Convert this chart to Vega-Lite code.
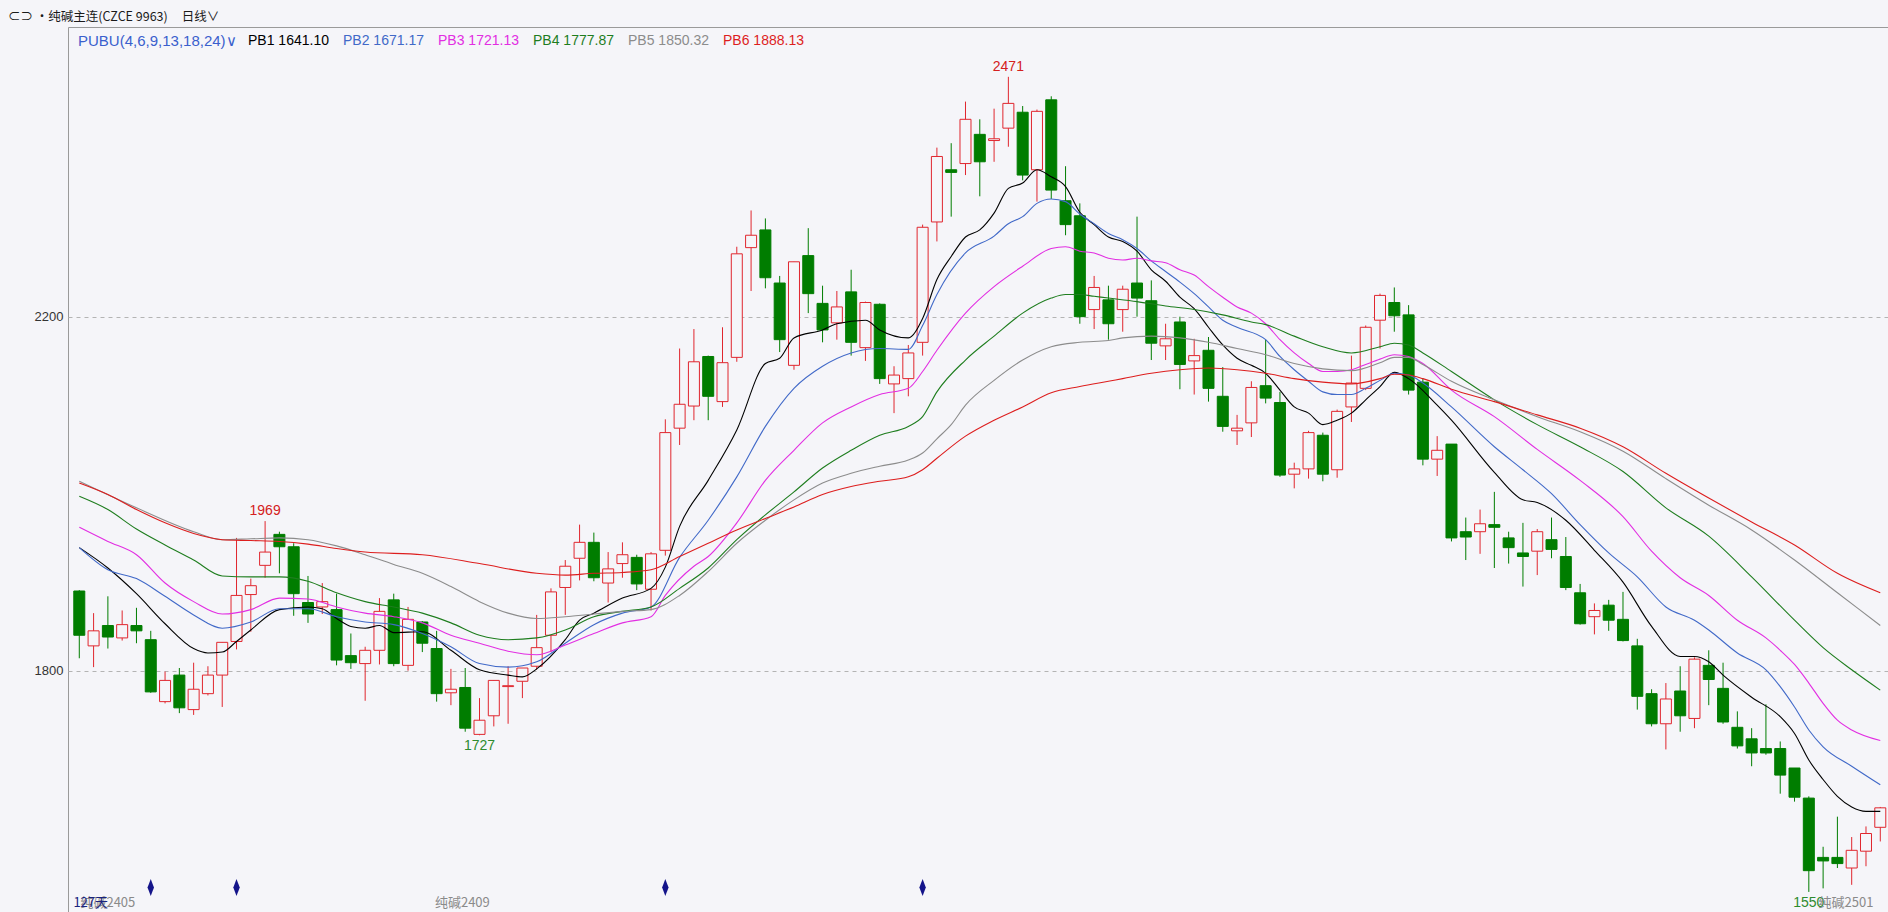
{
  "$schema": "https://vega.github.io/schema/vega-lite/v6.json",
  "width": 1820,
  "height": 885,
  "autosize": {"type": "none"},
  "padding": {"left": 68, "top": 27, "right": 0, "bottom": 0},
  "background": "#f5f5f9",
  "config": {
    "view": {"stroke": "#9a9a9a", "strokeWidth": 1},
    "font": "Liberation Sans",
    "axisY": {"grid": true, "gridDash": [4, 4], "gridColor": "#b4b4b4", "gridWidth": 1, "domain": false, "ticks": false, "labelPadding": 5, "labelFontSize": 13, "labelColor": "#333333", "labelFont": "Liberation Sans", "title": null}
  },
  "title": {
    "text": "⊂⊃ •纯碱主连(CZCE 9963)\u00a0\u00a0\u00a0\u00a0\u00a0日线∨",
    "anchor": "start",
    "frame": "group",
    "dx": -60,
    "offset": 4,
    "fontSize": 12.5,
    "fontWeight": "normal",
    "font": "Noto Sans CJK SC",
    "color": "#1a1a1a"
  },
  "datasets": {
    "candles": [
      {"i":1,"o":1890,"h":1891,"l":1814,"c":1840},
      {"i":2,"o":1828,"h":1865,"l":1804,"c":1845},
      {"i":3,"o":1851,"h":1884,"l":1825,"c":1838},
      {"i":4,"o":1837,"h":1868,"l":1834,"c":1852},
      {"i":5,"o":1851,"h":1871,"l":1831,"c":1845},
      {"i":6,"o":1835,"h":1845,"l":1775,"c":1776},
      {"i":7,"o":1765,"h":1799,"l":1763,"c":1789},
      {"i":8,"o":1795,"h":1803,"l":1752,"c":1758},
      {"i":9,"o":1756,"h":1809,"l":1750,"c":1779},
      {"i":10,"o":1774,"h":1805,"l":1772,"c":1795},
      {"i":11,"o":1795,"h":1832,"l":1759,"c":1832},
      {"i":12,"o":1833,"h":1950,"l":1824,"c":1885},
      {"i":13,"o":1886,"h":1904,"l":1844,"c":1896},
      {"i":14,"o":1919,"h":1969,"l":1905,"c":1934},
      {"i":15,"o":1954,"h":1957,"l":1910,"c":1940},
      {"i":16,"o":1940,"h":1944,"l":1862,"c":1887},
      {"i":17,"o":1877,"h":1907,"l":1854,"c":1864},
      {"i":18,"o":1872,"h":1899,"l":1864,"c":1878},
      {"i":19,"o":1869,"h":1887,"l":1806,"c":1812},
      {"i":20,"o":1817,"h":1842,"l":1802,"c":1809},
      {"i":21,"o":1808,"h":1827,"l":1766,"c":1823},
      {"i":22,"o":1823,"h":1882,"l":1807,"c":1867},
      {"i":23,"o":1880,"h":1887,"l":1805,"c":1808},
      {"i":24,"o":1806,"h":1872,"l":1800,"c":1858},
      {"i":25,"o":1855,"h":1856,"l":1821,"c":1831},
      {"i":26,"o":1825,"h":1845,"l":1765,"c":1774},
      {"i":27,"o":1775,"h":1802,"l":1761,"c":1779},
      {"i":28,"o":1781,"h":1803,"l":1731,"c":1735},
      {"i":29,"o":1728,"h":1769,"l":1727,"c":1744},
      {"i":30,"o":1749,"h":1789,"l":1737,"c":1789},
      {"i":31,"o":1782,"h":1805,"l":1740,"c":1783},
      {"i":32,"o":1788,"h":1803,"l":1769,"c":1803},
      {"i":33,"o":1805,"h":1863,"l":1801,"c":1826},
      {"i":34,"o":1840,"h":1893,"l":1821,"c":1889},
      {"i":35,"o":1894,"h":1925,"l":1863,"c":1918},
      {"i":36,"o":1927,"h":1965,"l":1902,"c":1945},
      {"i":37,"o":1945,"h":1956,"l":1901,"c":1905},
      {"i":38,"o":1899,"h":1934,"l":1877,"c":1915},
      {"i":39,"o":1921,"h":1945,"l":1905,"c":1931},
      {"i":40,"o":1928,"h":1931,"l":1891,"c":1898},
      {"i":41,"o":1892,"h":1934,"l":1868,"c":1932},
      {"i":42,"o":1936,"h":2084,"l":1930,"c":2069},
      {"i":43,"o":2074,"h":2164,"l":2055,"c":2101},
      {"i":44,"o":2099,"h":2186,"l":2083,"c":2149},
      {"i":45,"o":2155,"h":2156,"l":2083,"c":2110},
      {"i":46,"o":2104,"h":2188,"l":2098,"c":2148},
      {"i":47,"o":2154,"h":2279,"l":2149,"c":2271},
      {"i":48,"o":2278,"h":2320,"l":2229,"c":2292},
      {"i":49,"o":2298,"h":2311,"l":2232,"c":2244},
      {"i":50,"o":2238,"h":2246,"l":2160,"c":2174},
      {"i":51,"o":2145,"h":2262,"l":2140,"c":2262},
      {"i":52,"o":2269,"h":2300,"l":2204,"c":2226},
      {"i":53,"o":2215,"h":2235,"l":2171,"c":2185},
      {"i":54,"o":2193,"h":2229,"l":2174,"c":2211},
      {"i":55,"o":2228,"h":2253,"l":2156,"c":2171},
      {"i":56,"o":2165,"h":2217,"l":2150,"c":2216},
      {"i":57,"o":2214,"h":2215,"l":2124,"c":2130},
      {"i":58,"o":2124,"h":2144,"l":2091,"c":2134},
      {"i":59,"o":2130,"h":2168,"l":2110,"c":2159},
      {"i":60,"o":2171,"h":2304,"l":2156,"c":2301},
      {"i":61,"o":2307,"h":2391,"l":2285,"c":2381},
      {"i":62,"o":2366,"h":2396,"l":2313,"c":2363},
      {"i":63,"o":2373,"h":2443,"l":2360,"c":2423},
      {"i":64,"o":2406,"h":2423,"l":2336,"c":2375},
      {"i":65,"o":2399,"h":2435,"l":2375,"c":2401},
      {"i":66,"o":2413,"h":2471,"l":2392,"c":2441},
      {"i":67,"o":2431,"h":2438,"l":2354,"c":2360},
      {"i":68,"o":2366,"h":2434,"l":2330,"c":2432},
      {"i":69,"o":2445,"h":2449,"l":2333,"c":2343},
      {"i":70,"o":2331,"h":2370,"l":2292,"c":2304},
      {"i":71,"o":2314,"h":2328,"l":2192,"c":2200},
      {"i":72,"o":2208,"h":2246,"l":2186,"c":2233},
      {"i":73,"o":2219,"h":2235,"l":2174,"c":2192},
      {"i":74,"o":2208,"h":2235,"l":2183,"c":2231},
      {"i":75,"o":2238,"h":2313,"l":2200,"c":2221},
      {"i":76,"o":2218,"h":2241,"l":2151,"c":2170},
      {"i":77,"o":2167,"h":2192,"l":2151,"c":2175},
      {"i":78,"o":2194,"h":2200,"l":2118,"c":2146},
      {"i":79,"o":2150,"h":2175,"l":2112,"c":2156},
      {"i":80,"o":2162,"h":2177,"l":2104,"c":2119},
      {"i":81,"o":2110,"h":2143,"l":2070,"c":2076},
      {"i":82,"o":2071,"h":2089,"l":2055,"c":2074},
      {"i":83,"o":2080,"h":2127,"l":2064,"c":2120},
      {"i":84,"o":2122,"h":2174,"l":2102,"c":2108},
      {"i":85,"o":2103,"h":2115,"l":2019,"c":2021},
      {"i":86,"o":2022,"h":2035,"l":2006,"c":2028},
      {"i":87,"o":2028,"h":2071,"l":2017,"c":2069},
      {"i":88,"o":2066,"h":2069,"l":2014,"c":2022},
      {"i":89,"o":2027,"h":2095,"l":2018,"c":2093},
      {"i":90,"o":2098,"h":2156,"l":2081,"c":2125},
      {"i":91,"o":2119,"h":2190,"l":2117,"c":2188},
      {"i":92,"o":2196,"h":2226,"l":2164,"c":2224},
      {"i":93,"o":2216,"h":2233,"l":2183,"c":2201},
      {"i":94,"o":2202,"h":2213,"l":2112,"c":2117},
      {"i":95,"o":2126,"h":2130,"l":2032,"c":2039},
      {"i":96,"o":2039,"h":2065,"l":2020,"c":2049},
      {"i":97,"o":2056,"h":2056,"l":1946,"c":1950},
      {"i":98,"o":1957,"h":1973,"l":1925,"c":1951},
      {"i":99,"o":1957,"h":1982,"l":1932,"c":1966},
      {"i":100,"o":1965,"h":2002,"l":1916,"c":1962},
      {"i":101,"o":1950,"h":1957,"l":1921,"c":1939},
      {"i":102,"o":1933,"h":1967,"l":1895,"c":1929},
      {"i":103,"o":1935,"h":1960,"l":1908,"c":1957},
      {"i":104,"o":1948,"h":1973,"l":1927,"c":1937},
      {"i":105,"o":1929,"h":1951,"l":1891,"c":1894},
      {"i":106,"o":1888,"h":1898,"l":1852,"c":1853},
      {"i":107,"o":1861,"h":1876,"l":1841,"c":1868},
      {"i":108,"o":1874,"h":1880,"l":1845,"c":1857},
      {"i":109,"o":1858,"h":1889,"l":1833,"c":1834},
      {"i":110,"o":1828,"h":1836,"l":1756,"c":1771},
      {"i":111,"o":1774,"h":1779,"l":1737,"c":1740},
      {"i":112,"o":1740,"h":1786,"l":1711,"c":1768},
      {"i":113,"o":1777,"h":1805,"l":1731,"c":1749},
      {"i":114,"o":1746,"h":1815,"l":1735,"c":1813},
      {"i":115,"o":1806,"h":1823,"l":1761,"c":1790},
      {"i":116,"o":1780,"h":1809,"l":1740,"c":1742},
      {"i":117,"o":1736,"h":1754,"l":1712,"c":1715},
      {"i":118,"o":1723,"h":1735,"l":1692,"c":1707},
      {"i":119,"o":1712,"h":1762,"l":1705,"c":1707},
      {"i":120,"o":1712,"h":1720,"l":1661,"c":1682},
      {"i":121,"o":1690,"h":1690,"l":1652,"c":1657},
      {"i":122,"o":1656,"h":1658,"l":1550,"c":1574},
      {"i":123,"o":1589,"h":1601,"l":1554,"c":1585},
      {"i":124,"o":1589,"h":1635,"l":1577,"c":1582},
      {"i":125,"o":1577,"h":1612,"l":1558,"c":1597},
      {"i":126,"o":1596,"h":1624,"l":1579,"c":1616},
      {"i":127,"o":1623,"h":1646,"l":1607,"c":1645}
    ],
    "lines": [
      {"s":"PB1","i":1,"v":1939},{"s":"PB1","i":3,"v":1916},{"s":"PB1","i":5,"v":1887},{"s":"PB1","i":7,"v":1853},{"s":"PB1","i":9,"v":1825},{"s":"PB1","i":10,"v":1820},{"s":"PB1","i":11,"v":1821},{"s":"PB1","i":12,"v":1833},{"s":"PB1","i":13,"v":1846},{"s":"PB1","i":15,"v":1869},{"s":"PB1","i":17,"v":1872},{"s":"PB1","i":18,"v":1870},{"s":"PB1","i":19,"v":1859},{"s":"PB1","i":20,"v":1850},{"s":"PB1","i":21,"v":1848},{"s":"PB1","i":22,"v":1851},{"s":"PB1","i":23,"v":1843},{"s":"PB1","i":25,"v":1844},{"s":"PB1","i":27,"v":1823},{"s":"PB1","i":29,"v":1801},{"s":"PB1","i":31,"v":1795},{"s":"PB1","i":32,"v":1793},{"s":"PB1","i":33,"v":1802},{"s":"PB1","i":35,"v":1835},{"s":"PB1","i":36,"v":1857},{"s":"PB1","i":37,"v":1865},{"s":"PB1","i":39,"v":1882},{"s":"PB1","i":41,"v":1893},{"s":"PB1","i":42,"v":1917},{"s":"PB1","i":43,"v":1963},{"s":"PB1","i":45,"v":2015},{"s":"PB1","i":47,"v":2072},{"s":"PB1","i":49,"v":2147},{"s":"PB1","i":50,"v":2153},{"s":"PB1","i":51,"v":2176},{"s":"PB1","i":53,"v":2185},{"s":"PB1","i":54,"v":2192},{"s":"PB1","i":56,"v":2196},{"s":"PB1","i":57,"v":2185},{"s":"PB1","i":59,"v":2176},{"s":"PB1","i":60,"v":2198},{"s":"PB1","i":61,"v":2242},{"s":"PB1","i":62,"v":2268},{"s":"PB1","i":63,"v":2290},{"s":"PB1","i":64,"v":2298},{"s":"PB1","i":65,"v":2317},{"s":"PB1","i":66,"v":2345},{"s":"PB1","i":67,"v":2351},{"s":"PB1","i":68,"v":2366},{"s":"PB1","i":69,"v":2358},{"s":"PB1","i":70,"v":2347},{"s":"PB1","i":71,"v":2318},{"s":"PB1","i":72,"v":2304},{"s":"PB1","i":73,"v":2290},{"s":"PB1","i":74,"v":2285},{"s":"PB1","i":75,"v":2274},{"s":"PB1","i":76,"v":2253},{"s":"PB1","i":77,"v":2240},{"s":"PB1","i":78,"v":2222},{"s":"PB1","i":79,"v":2209},{"s":"PB1","i":80,"v":2188},{"s":"PB1","i":81,"v":2168},{"s":"PB1","i":82,"v":2153},{"s":"PB1","i":83,"v":2145},{"s":"PB1","i":84,"v":2136},{"s":"PB1","i":85,"v":2117},{"s":"PB1","i":86,"v":2098},{"s":"PB1","i":87,"v":2091},{"s":"PB1","i":88,"v":2078},{"s":"PB1","i":89,"v":2083},{"s":"PB1","i":90,"v":2091},{"s":"PB1","i":91,"v":2106},{"s":"PB1","i":92,"v":2121},{"s":"PB1","i":93,"v":2137},{"s":"PB1","i":94,"v":2130},{"s":"PB1","i":96,"v":2100},{"s":"PB1","i":97,"v":2083},{"s":"PB1","i":100,"v":2024},{"s":"PB1","i":102,"v":1993},{"s":"PB1","i":103,"v":1990},{"s":"PB1","i":105,"v":1970},{"s":"PB1","i":107,"v":1936},{"s":"PB1","i":109,"v":1900},{"s":"PB1","i":111,"v":1850},{"s":"PB1","i":113,"v":1816},{"s":"PB1","i":114,"v":1816},{"s":"PB1","i":115,"v":1810},{"s":"PB1","i":116,"v":1795},{"s":"PB1","i":118,"v":1770},{"s":"PB1","i":120,"v":1748},{"s":"PB1","i":121,"v":1729},{"s":"PB1","i":122,"v":1699},{"s":"PB1","i":123,"v":1677},{"s":"PB1","i":124,"v":1658},{"s":"PB1","i":125,"v":1646},{"s":"PB1","i":126,"v":1641},{"s":"PB1","i":127,"v":1641},
      {"s":"PB2","i":1,"v":1939},{"s":"PB2","i":3,"v":1914},{"s":"PB2","i":5,"v":1904},{"s":"PB2","i":7,"v":1884},{"s":"PB2","i":9,"v":1863},{"s":"PB2","i":11,"v":1848},{"s":"PB2","i":13,"v":1855},{"s":"PB2","i":15,"v":1870},{"s":"PB2","i":17,"v":1870},{"s":"PB2","i":19,"v":1861},{"s":"PB2","i":21,"v":1855},{"s":"PB2","i":23,"v":1852},{"s":"PB2","i":25,"v":1842},{"s":"PB2","i":27,"v":1827},{"s":"PB2","i":29,"v":1808},{"s":"PB2","i":31,"v":1804},{"s":"PB2","i":33,"v":1810},{"s":"PB2","i":35,"v":1831},{"s":"PB2","i":37,"v":1852},{"s":"PB2","i":39,"v":1865},{"s":"PB2","i":41,"v":1872},{"s":"PB2","i":43,"v":1928},{"s":"PB2","i":45,"v":1970},{"s":"PB2","i":47,"v":2019},{"s":"PB2","i":49,"v":2076},{"s":"PB2","i":51,"v":2119},{"s":"PB2","i":53,"v":2144},{"s":"PB2","i":55,"v":2159},{"s":"PB2","i":57,"v":2164},{"s":"PB2","i":59,"v":2163},{"s":"PB2","i":60,"v":2190},{"s":"PB2","i":61,"v":2225},{"s":"PB2","i":63,"v":2272},{"s":"PB2","i":65,"v":2291},{"s":"PB2","i":66,"v":2305},{"s":"PB2","i":67,"v":2313},{"s":"PB2","i":68,"v":2328},{"s":"PB2","i":69,"v":2333},{"s":"PB2","i":70,"v":2330},{"s":"PB2","i":71,"v":2316},{"s":"PB2","i":72,"v":2305},{"s":"PB2","i":73,"v":2294},{"s":"PB2","i":74,"v":2287},{"s":"PB2","i":75,"v":2277},{"s":"PB2","i":76,"v":2263},{"s":"PB2","i":77,"v":2251},{"s":"PB2","i":78,"v":2239},{"s":"PB2","i":79,"v":2226},{"s":"PB2","i":80,"v":2211},{"s":"PB2","i":81,"v":2196},{"s":"PB2","i":82,"v":2188},{"s":"PB2","i":84,"v":2174},{"s":"PB2","i":85,"v":2155},{"s":"PB2","i":86,"v":2140},{"s":"PB2","i":87,"v":2127},{"s":"PB2","i":88,"v":2115},{"s":"PB2","i":89,"v":2112},{"s":"PB2","i":90,"v":2112},{"s":"PB2","i":91,"v":2119},{"s":"PB2","i":92,"v":2128},{"s":"PB2","i":93,"v":2136},{"s":"PB2","i":94,"v":2134},{"s":"PB2","i":95,"v":2125},{"s":"PB2","i":97,"v":2098},{"s":"PB2","i":100,"v":2053},{"s":"PB2","i":102,"v":2027},{"s":"PB2","i":104,"v":2000},{"s":"PB2","i":106,"v":1965},{"s":"PB2","i":108,"v":1933},{"s":"PB2","i":110,"v":1906},{"s":"PB2","i":112,"v":1872},{"s":"PB2","i":114,"v":1857},{"s":"PB2","i":115,"v":1846},{"s":"PB2","i":117,"v":1820},{"s":"PB2","i":119,"v":1801},{"s":"PB2","i":120,"v":1782},{"s":"PB2","i":121,"v":1759},{"s":"PB2","i":122,"v":1733},{"s":"PB2","i":123,"v":1714},{"s":"PB2","i":125,"v":1692},{"s":"PB2","i":127,"v":1671},
      {"s":"PB3","i":1,"v":1962},{"s":"PB3","i":3,"v":1946},{"s":"PB3","i":5,"v":1931},{"s":"PB3","i":7,"v":1899},{"s":"PB3","i":9,"v":1878},{"s":"PB3","i":11,"v":1864},{"s":"PB3","i":13,"v":1869},{"s":"PB3","i":15,"v":1882},{"s":"PB3","i":17,"v":1881},{"s":"PB3","i":19,"v":1872},{"s":"PB3","i":21,"v":1865},{"s":"PB3","i":23,"v":1861},{"s":"PB3","i":25,"v":1854},{"s":"PB3","i":27,"v":1840},{"s":"PB3","i":29,"v":1831},{"s":"PB3","i":31,"v":1822},{"s":"PB3","i":33,"v":1818},{"s":"PB3","i":35,"v":1829},{"s":"PB3","i":37,"v":1842},{"s":"PB3","i":39,"v":1854},{"s":"PB3","i":41,"v":1861},{"s":"PB3","i":42,"v":1885},{"s":"PB3","i":44,"v":1918},{"s":"PB3","i":45,"v":1929},{"s":"PB3","i":47,"v":1967},{"s":"PB3","i":49,"v":2015},{"s":"PB3","i":51,"v":2049},{"s":"PB3","i":53,"v":2080},{"s":"PB3","i":55,"v":2098},{"s":"PB3","i":57,"v":2112},{"s":"PB3","i":59,"v":2119},{"s":"PB3","i":60,"v":2138},{"s":"PB3","i":61,"v":2162},{"s":"PB3","i":63,"v":2204},{"s":"PB3","i":65,"v":2234},{"s":"PB3","i":67,"v":2257},{"s":"PB3","i":69,"v":2277},{"s":"PB3","i":70,"v":2279},{"s":"PB3","i":71,"v":2274},{"s":"PB3","i":72,"v":2272},{"s":"PB3","i":73,"v":2266},{"s":"PB3","i":74,"v":2264},{"s":"PB3","i":75,"v":2266},{"s":"PB3","i":76,"v":2263},{"s":"PB3","i":77,"v":2261},{"s":"PB3","i":78,"v":2253},{"s":"PB3","i":79,"v":2247},{"s":"PB3","i":80,"v":2234},{"s":"PB3","i":81,"v":2222},{"s":"PB3","i":82,"v":2211},{"s":"PB3","i":83,"v":2204},{"s":"PB3","i":84,"v":2192},{"s":"PB3","i":85,"v":2174},{"s":"PB3","i":86,"v":2159},{"s":"PB3","i":87,"v":2147},{"s":"PB3","i":88,"v":2138},{"s":"PB3","i":89,"v":2138},{"s":"PB3","i":90,"v":2140},{"s":"PB3","i":91,"v":2146},{"s":"PB3","i":92,"v":2152},{"s":"PB3","i":93,"v":2157},{"s":"PB3","i":94,"v":2155},{"s":"PB3","i":95,"v":2147},{"s":"PB3","i":97,"v":2117},{"s":"PB3","i":100,"v":2087},{"s":"PB3","i":103,"v":2050},{"s":"PB3","i":106,"v":2015},{"s":"PB3","i":109,"v":1974},{"s":"PB3","i":111,"v":1935},{"s":"PB3","i":113,"v":1905},{"s":"PB3","i":115,"v":1885},{"s":"PB3","i":117,"v":1857},{"s":"PB3","i":119,"v":1837},{"s":"PB3","i":120,"v":1823},{"s":"PB3","i":121,"v":1807},{"s":"PB3","i":122,"v":1786},{"s":"PB3","i":123,"v":1763},{"s":"PB3","i":124,"v":1744},{"s":"PB3","i":125,"v":1733},{"s":"PB3","i":127,"v":1721},
      {"s":"PB4","i":1,"v":1997},{"s":"PB4","i":3,"v":1982},{"s":"PB4","i":5,"v":1960},{"s":"PB4","i":7,"v":1942},{"s":"PB4","i":9,"v":1925},{"s":"PB4","i":11,"v":1907},{"s":"PB4","i":13,"v":1906},{"s":"PB4","i":15,"v":1906},{"s":"PB4","i":17,"v":1901},{"s":"PB4","i":19,"v":1888},{"s":"PB4","i":21,"v":1878},{"s":"PB4","i":23,"v":1872},{"s":"PB4","i":25,"v":1865},{"s":"PB4","i":27,"v":1854},{"s":"PB4","i":29,"v":1840},{"s":"PB4","i":31,"v":1835},{"s":"PB4","i":33,"v":1837},{"s":"PB4","i":35,"v":1846},{"s":"PB4","i":37,"v":1861},{"s":"PB4","i":39,"v":1867},{"s":"PB4","i":41,"v":1872},{"s":"PB4","i":43,"v":1893},{"s":"PB4","i":45,"v":1916},{"s":"PB4","i":47,"v":1948},{"s":"PB4","i":49,"v":1976},{"s":"PB4","i":51,"v":2002},{"s":"PB4","i":53,"v":2029},{"s":"PB4","i":55,"v":2049},{"s":"PB4","i":57,"v":2066},{"s":"PB4","i":59,"v":2076},{"s":"PB4","i":60,"v":2087},{"s":"PB4","i":61,"v":2115},{"s":"PB4","i":63,"v":2151},{"s":"PB4","i":65,"v":2178},{"s":"PB4","i":67,"v":2204},{"s":"PB4","i":69,"v":2221},{"s":"PB4","i":70,"v":2225},{"s":"PB4","i":71,"v":2225},{"s":"PB4","i":72,"v":2223},{"s":"PB4","i":73,"v":2221},{"s":"PB4","i":75,"v":2217},{"s":"PB4","i":77,"v":2212},{"s":"PB4","i":79,"v":2208},{"s":"PB4","i":81,"v":2202},{"s":"PB4","i":83,"v":2194},{"s":"PB4","i":84,"v":2191},{"s":"PB4","i":86,"v":2178},{"s":"PB4","i":88,"v":2166},{"s":"PB4","i":90,"v":2159},{"s":"PB4","i":92,"v":2166},{"s":"PB4","i":93,"v":2170},{"s":"PB4","i":94,"v":2168},{"s":"PB4","i":95,"v":2159},{"s":"PB4","i":97,"v":2138},{"s":"PB4","i":100,"v":2106},{"s":"PB4","i":103,"v":2078},{"s":"PB4","i":106,"v":2053},{"s":"PB4","i":109,"v":2025},{"s":"PB4","i":112,"v":1984},{"s":"PB4","i":115,"v":1952},{"s":"PB4","i":118,"v":1906},{"s":"PB4","i":121,"v":1857},{"s":"PB4","i":123,"v":1826},{"s":"PB4","i":125,"v":1801},{"s":"PB4","i":127,"v":1778},
      {"s":"PB5","i":1,"v":2014},{"s":"PB5","i":5,"v":1984},{"s":"PB5","i":9,"v":1957},{"s":"PB5","i":11,"v":1948},{"s":"PB5","i":13,"v":1949},{"s":"PB5","i":15,"v":1950},{"s":"PB5","i":17,"v":1948},{"s":"PB5","i":19,"v":1941},{"s":"PB5","i":21,"v":1931},{"s":"PB5","i":23,"v":1920},{"s":"PB5","i":25,"v":1910},{"s":"PB5","i":27,"v":1895},{"s":"PB5","i":29,"v":1878},{"s":"PB5","i":31,"v":1865},{"s":"PB5","i":33,"v":1859},{"s":"PB5","i":35,"v":1861},{"s":"PB5","i":37,"v":1864},{"s":"PB5","i":39,"v":1867},{"s":"PB5","i":41,"v":1869},{"s":"PB5","i":43,"v":1885},{"s":"PB5","i":45,"v":1912},{"s":"PB5","i":47,"v":1944},{"s":"PB5","i":49,"v":1970},{"s":"PB5","i":51,"v":1993},{"s":"PB5","i":53,"v":2012},{"s":"PB5","i":55,"v":2023},{"s":"PB5","i":57,"v":2031},{"s":"PB5","i":59,"v":2038},{"s":"PB5","i":60,"v":2046},{"s":"PB5","i":61,"v":2062},{"s":"PB5","i":62,"v":2078},{"s":"PB5","i":63,"v":2100},{"s":"PB5","i":65,"v":2128},{"s":"PB5","i":67,"v":2151},{"s":"PB5","i":69,"v":2166},{"s":"PB5","i":71,"v":2171},{"s":"PB5","i":73,"v":2173},{"s":"PB5","i":74,"v":2176},{"s":"PB5","i":76,"v":2178},{"s":"PB5","i":78,"v":2176},{"s":"PB5","i":80,"v":2171},{"s":"PB5","i":82,"v":2164},{"s":"PB5","i":84,"v":2157},{"s":"PB5","i":86,"v":2147},{"s":"PB5","i":88,"v":2141},{"s":"PB5","i":90,"v":2139},{"s":"PB5","i":92,"v":2148},{"s":"PB5","i":93,"v":2154},{"s":"PB5","i":94,"v":2154},{"s":"PB5","i":95,"v":2146},{"s":"PB5","i":97,"v":2127},{"s":"PB5","i":100,"v":2106},{"s":"PB5","i":103,"v":2087},{"s":"PB5","i":106,"v":2070},{"s":"PB5","i":109,"v":2048},{"s":"PB5","i":112,"v":2017},{"s":"PB5","i":115,"v":1987},{"s":"PB5","i":118,"v":1959},{"s":"PB5","i":121,"v":1925},{"s":"PB5","i":124,"v":1888},{"s":"PB5","i":127,"v":1851},
      {"s":"PB6","i":1,"v":2012},{"s":"PB6","i":3,"v":1999},{"s":"PB6","i":5,"v":1982},{"s":"PB6","i":7,"v":1967},{"s":"PB6","i":9,"v":1955},{"s":"PB6","i":11,"v":1948},{"s":"PB6","i":13,"v":1947},{"s":"PB6","i":15,"v":1946},{"s":"PB6","i":17,"v":1943},{"s":"PB6","i":19,"v":1938},{"s":"PB6","i":21,"v":1934},{"s":"PB6","i":25,"v":1931},{"s":"PB6","i":29,"v":1921},{"s":"PB6","i":33,"v":1910},{"s":"PB6","i":35,"v":1908},{"s":"PB6","i":37,"v":1910},{"s":"PB6","i":39,"v":1911},{"s":"PB6","i":41,"v":1914},{"s":"PB6","i":43,"v":1929},{"s":"PB6","i":45,"v":1944},{"s":"PB6","i":47,"v":1959},{"s":"PB6","i":49,"v":1972},{"s":"PB6","i":51,"v":1985},{"s":"PB6","i":53,"v":1999},{"s":"PB6","i":55,"v":2008},{"s":"PB6","i":57,"v":2014},{"s":"PB6","i":59,"v":2019},{"s":"PB6","i":60,"v":2027},{"s":"PB6","i":61,"v":2040},{"s":"PB6","i":63,"v":2065},{"s":"PB6","i":65,"v":2083},{"s":"PB6","i":67,"v":2098},{"s":"PB6","i":69,"v":2114},{"s":"PB6","i":71,"v":2121},{"s":"PB6","i":73,"v":2127},{"s":"PB6","i":74,"v":2130},{"s":"PB6","i":76,"v":2136},{"s":"PB6","i":78,"v":2140},{"s":"PB6","i":80,"v":2142},{"s":"PB6","i":82,"v":2140},{"s":"PB6","i":84,"v":2136},{"s":"PB6","i":86,"v":2130},{"s":"PB6","i":88,"v":2126},{"s":"PB6","i":90,"v":2124},{"s":"PB6","i":92,"v":2130},{"s":"PB6","i":93,"v":2135},{"s":"PB6","i":94,"v":2134},{"s":"PB6","i":95,"v":2130},{"s":"PB6","i":97,"v":2118},{"s":"PB6","i":100,"v":2104},{"s":"PB6","i":103,"v":2089},{"s":"PB6","i":106,"v":2074},{"s":"PB6","i":109,"v":2053},{"s":"PB6","i":112,"v":2023},{"s":"PB6","i":115,"v":1995},{"s":"PB6","i":118,"v":1968},{"s":"PB6","i":121,"v":1942},{"s":"PB6","i":124,"v":1910},{"s":"PB6","i":127,"v":1888}
    ],
    "highs": [{"i":14,"p":1969,"t":"1969"},{"i":66,"p":2471,"t":"2471"}],
    "lows": [{"i":29,"p":1727,"t":"1727"},{"i":122,"p":1550,"t":"1550"}],
    "contracts": [{"i":3.0,"p":1537,"t":"纯碱2405"},{"i":27.8,"p":1537,"t":"纯碱2409"},{"i":124.6,"p":1537,"t":"纯碱2501"}],
    "count": [{"i":1.8,"p":1537,"t":"127天"}],
    "flags": [{"i":6,"p":1555},{"i":12,"p":1555},{"i":42,"p":1555},{"i":60,"p":1555}]
  },
  "encoding": {
    "x": {"field": "i", "type": "quantitative", "scale": {"domain": [0.56, 127.19], "nice": false, "zero": false}, "axis": null}
  },
  "layer": [
    {
      "data": {"name": "candles"},
      "mark": {"type": "rule", "strokeWidth": 1},
      "encoding": {
        "y": {"field": "l", "type": "quantitative", "scale": {"domain": [1527.3, 2527.3], "nice": false, "zero": false}, "axis": {"values": [1800, 2200], "title": null, "format": "d"}},
        "y2": {"field": "h"},
        "color": {"condition": {"test": "datum.c >= datum.o", "value": "#e0262e"}, "value": "#007d00"}
      }
    },
    {
      "data": {"name": "candles"},
      "mark": {"type": "bar", "size": 11, "strokeWidth": 1},
      "encoding": {
        "y": {"field": "o", "type": "quantitative", "axis": {"values": [1800, 2200], "title": null, "format": "d"}},
        "y2": {"field": "c"},
        "fill": {"condition": {"test": "datum.c > datum.o", "value": "#f5f5f9"}, "value": "#007d00"},
        "stroke": {"condition": {"test": "datum.c >= datum.o", "value": "#e0262e"}, "value": "#007d00"}
      }
    },
    {
      "data": {"name": "lines"},
      "mark": {"type": "line", "strokeWidth": 1.1, "interpolate": "monotone"},
      "encoding": {
        "y": {"field": "v", "type": "quantitative", "axis": {"values": [1800, 2200], "title": null, "format": "d"}},
        "color": {
          "field": "s", "type": "nominal",
          "scale": {"domain": ["PB1", "PB2", "PB3", "PB4", "PB5", "PB6"], "range": ["#000000", "#4169c8", "#e22ee2", "#1e7d1e", "#8c8c8c", "#dd1e1e"]},
          "legend": {
            "orient": "none", "legendX": 10, "legendY": 7, "direction": "horizontal",
            "title": "PUBU(4,6,9,13,18,24)∨", "titleOrient": "left", "titleColor": "#3a5fcd", "titleFontSize": 15, "titleFontWeight": "normal", "titleFont": "Liberation Sans", "titlePadding": -3,
            "symbolSize": 0, "symbolStrokeWidth": 0, "symbolOpacity": 0, "labelOffset": 0, "labelFontSize": 14, "labelFont": "Liberation Sans", "columnPadding": -4,
            "labelExpr": "datum.label == 'PB1' ? 'PB1 1641.10' : datum.label == 'PB2' ? 'PB2 1671.17' : datum.label == 'PB3' ? 'PB3 1721.13' : datum.label == 'PB4' ? 'PB4 1777.87' : datum.label == 'PB5' ? 'PB5 1850.32' : 'PB6 1888.13'",
            "encode": {"labels": {"update": {"fill": {"signal": "scale('color', datum.value)"}}}}
          }
        },
        "order": {"field": "i", "type": "quantitative"}
      }
    },
    {
      "data": {"name": "highs"},
      "mark": {"type": "text", "color": "#d42020", "fontSize": 14, "baseline": "bottom", "dy": -3, "font": "Liberation Sans"},
      "encoding": {"y": {"field": "p", "type": "quantitative", "axis": {"values": [1800, 2200], "title": null, "format": "d"}}, "text": {"field": "t"}}
    },
    {
      "data": {"name": "lows"},
      "mark": {"type": "text", "color": "#2e8b2e", "fontSize": 14, "baseline": "top", "dy": 4, "font": "Liberation Sans"},
      "encoding": {"y": {"field": "p", "type": "quantitative", "axis": {"values": [1800, 2200], "title": null, "format": "d"}}, "text": {"field": "t"}}
    },
    {
      "data": {"name": "contracts"},
      "mark": {"type": "text", "color": "#8a8a8a", "fontSize": 13, "baseline": "middle", "font": "Noto Sans CJK SC"},
      "encoding": {"y": {"field": "p", "type": "quantitative", "axis": {"values": [1800, 2200], "title": null, "format": "d"}}, "text": {"field": "t"}}
    },
    {
      "data": {"name": "count"},
      "mark": {"type": "text", "color": "#1a237e", "fontSize": 13, "baseline": "middle", "font": "Noto Sans CJK SC"},
      "encoding": {"y": {"field": "p", "type": "quantitative", "axis": {"values": [1800, 2200], "title": null, "format": "d"}}, "text": {"field": "t"}}
    },
    {
      "data": {"name": "flags"},
      "mark": {"type": "point", "shape": "M0,-1L0.38,0L0,1L-0.38,0Z", "filled": true, "size": 289, "color": "#14148a", "opacity": 1},
      "encoding": {"y": {"field": "p", "type": "quantitative", "axis": {"values": [1800, 2200], "title": null, "format": "d"}}}
    }
  ]
}
